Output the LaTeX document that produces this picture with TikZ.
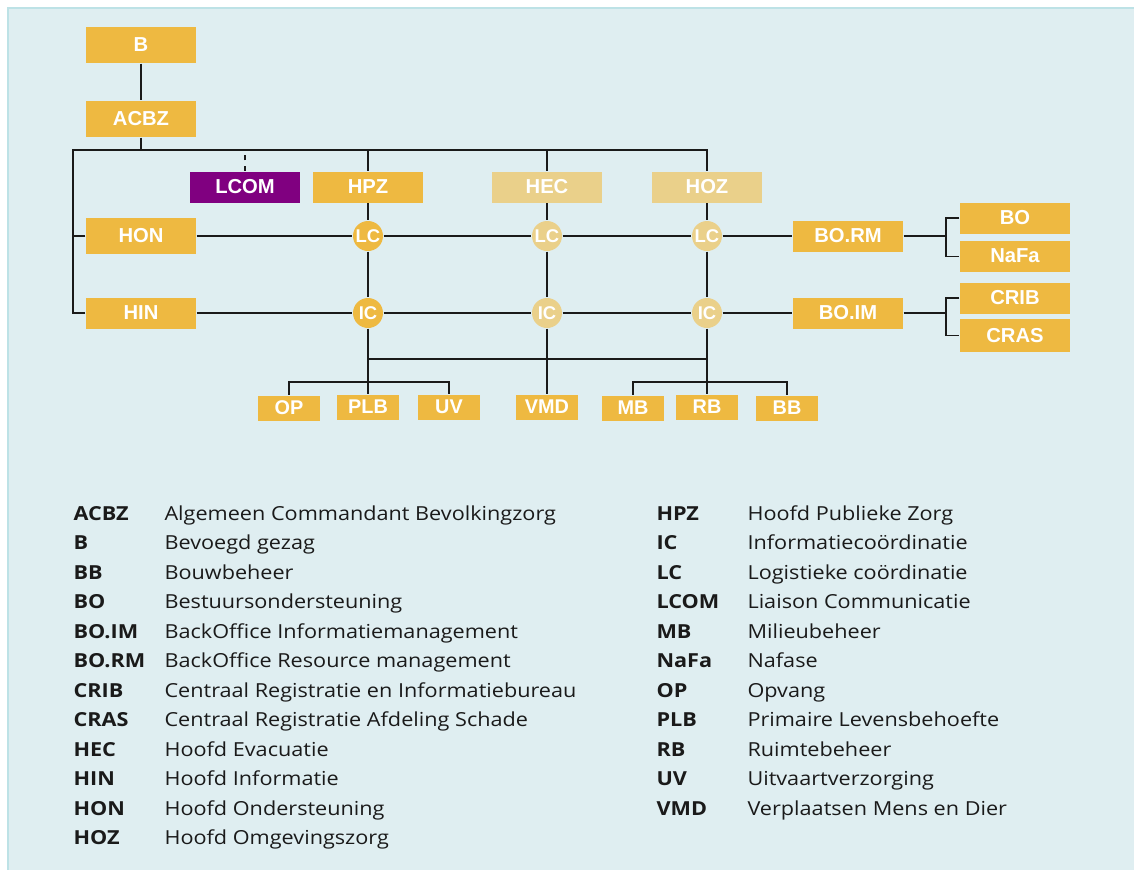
\documentclass[tikz,border=0pt]{standalone}
\usepackage{fontspec}
\setmainfont{Open Sans}
\newfontfamily\boxfont{Liberation Sans}
\newfontfamily\legendfont[FakeStretch=1.12]{Open Sans}
\usepackage{tikz}
\usetikzlibrary{positioning}
\definecolor{bgblue}{HTML}{DFEEF1}
\definecolor{edgeblue}{HTML}{BDE2E6}
\definecolor{goldy}{HTML}{EEB941}
\definecolor{paley}{HTML}{EAD08A}
\definecolor{lcompurple}{HTML}{800080}
\definecolor{inky}{HTML}{1A1A1A}

\begin{document}
\begin{tikzpicture}[
    x = .02cm,
    y = -.02cm,
    line width = .6pt,
    draw = inky,
    unitf/.style = {
      rectangle,
      fill=goldy,
      text=white,
      font=\boxfont\bfseries\fontsize{11.5}{13}\selectfont,
      minimum width=2.2cm,
      minimum height=.62cm,
      inner sep=0pt
    },
    tallf/.style = {
      unitf,
      minimum height=.72cm
    },
    smallf/.style = {
      unitf,
      font=\boxfont\bfseries\fontsize{11.3}{13}\selectfont,
      minimum width=1.24cm,
      minimum height=.5cm
    },
    coordf/.style = {
      circle,
      fill=goldy,
      text=white,
      font=\boxfont\bfseries\fontsize{10.5}{12}\selectfont,
      minimum size=.6cm,
      inner sep=0pt
    },
    abbrf/.style = {
      anchor=base west,
      inner sep=0pt,
      text=inky,
      font=\legendfont\bfseries\fontsize{11}{13}\selectfont
    },
    descf/.style = {
      anchor=base west,
      inner sep=0pt,
      text=inky,
      font=\legendfont\fontsize{11}{13}\selectfont
    }
  ]
    \useasboundingbox (0,0) rectangle (1134,870);
    \fill[white] (0,0) rectangle (1134,870);
    \fill[bgblue] (8,8) rectangle (1134,870);
    \draw[edgeblue, line width=1.2pt] (1134,8) -- (8,8) -- (8,870);

    \node[tallf] (b) at (141,45) {B};
    \node[tallf] (acbz) at (141,119) {ACBZ};
    \node[unitf, fill=lcompurple] (lcom) at (245,187) {LCOM};
    \node[unitf] (hpz) at (368,187) {HPZ};
    \node[unitf, fill=paley] (hec) at (547,187) {HEC};
    \node[unitf, fill=paley] (hoz) at (707,187) {HOZ};
    \node[tallf] (hon) at (141,236) {HON};
    \node[unitf] (hin) at (141,313) {HIN};

    \node[coordf] (lc1) at (368,236) {LC};
    \node[coordf, fill=paley] (lc2) at (547,236) {LC};
    \node[coordf, fill=paley] (lc3) at (707,236) {LC};
    \node[coordf] (ic1) at (368,313) {IC};
    \node[coordf, fill=paley] (ic2) at (547,313) {IC};
    \node[coordf, fill=paley] (ic3) at (707,313) {IC};

    \node[unitf] (borm) at (848,236) {BO.RM};
    \node[unitf] (boim) at (848,313) {BO.IM};
    \node[unitf] (bo) at (1015,218) {BO};
    \node[unitf, below=.12cm of bo] (nafa) {NaFa};
    \node[unitf] (crib) at (1015,298) {CRIB};
    \node[unitf, minimum height=.66cm, below=.08cm of crib] (cras) {CRAS};

    \node[smallf] (op) at (289,408) {OP};
    \node[smallf] (plb) at (368,407) {PLB};
    \node[smallf] (uv) at (449,407) {UV};
    \node[smallf] (vmd) at (547,407) {VMD};
    \node[smallf] (mb) at (633,408) {MB};
    \node[smallf] (rb) at (707,407) {RB};
    \node[smallf] (bb) at (787,408) {BB};

    \coordinate (bus) at (73,150);
    \coordinate (ichub) at (368,359);
    \coordinate (rmj) at (946,236);
    \coordinate (imj) at (946,313);

    \draw (b) -- (acbz);
    \draw (acbz) -- (acbz |- bus);
    \draw (hin.west) -| (bus) -| (hoz.north);
    \draw (hon.west) -- (hon.west -| bus);
    \draw (hpz.north) -- (hpz.north |- bus);
    \draw (hec.north) -- (hec.north |- bus);
    \draw[dashed] (lcom.north) -- (lcom.north |- bus);

    \draw (hpz) -- (lc1) -- (ic1) -- (plb);
    \draw (hec) -- (lc2) -- (ic2) -- (vmd);
    \draw (hoz) -- (lc3) -- (ic3) -- (rb);
    \draw (hon) -- (lc1) -- (lc2) -- (lc3) -- (borm);
    \draw (hin) -- (ic1) -- (ic2) -- (ic3) -- (boim);
    \draw (ichub) -- (ichub -| rb);

    \draw (op.north) -- ++(0,-13) -| (uv.north);
    \draw (mb.north) -- ++(0,-13) -| (bb.north);

    \draw (borm) -- (rmj);
    \draw (bo.west) -| (rmj) |- (nafa.west);
    \draw (boim) -- (imj);
    \draw (crib.west) -| (imj) |- (cras.west);

    \foreach \ab/\txt [count=\i from 0] in {
        ACBZ/Algemeen Commandant Bevolkingzorg,
        B/Bevoegd gezag,
        BB/Bouwbeheer,
        BO/Bestuursondersteuning,
        BO.IM/BackOffice Informatiemanagement,
        BO.RM/BackOffice Resource management,
        CRIB/Centraal Registratie en Informatiebureau,
        CRAS/Centraal Registratie Afdeling Schade,
        HEC/Hoofd Evacuatie,
        HIN/Hoofd Informatie,
        HON/Hoofd Ondersteuning,
        HOZ/Hoofd Omgevingszorg} {
      \node[abbrf] (abl\i) at (73,520+29.5*\i) {\ab};
      \node[descf] (dsl\i) at (164,520+29.5*\i) {\txt};
    }
    \foreach \ab/\txt [count=\i from 0] in {
        HPZ/Hoofd Publieke Zorg,
        IC/Informatiecoördinatie,
        LC/Logistieke coördinatie,
        LCOM/Liaison Communicatie,
        MB/Milieubeheer,
        NaFa/Nafase,
        OP/Opvang,
        PLB/Primaire Levensbehoefte,
        RB/Ruimtebeheer,
        UV/Uitvaartverzorging,
        VMD/Verplaatsen Mens en Dier} {
      \node[abbrf] (abr\i) at (656,520+29.5*\i) {\ab};
      \node[descf] (dsr\i) at (747,520+29.5*\i) {\txt};
    }
  \end{tikzpicture}
\end{document}
